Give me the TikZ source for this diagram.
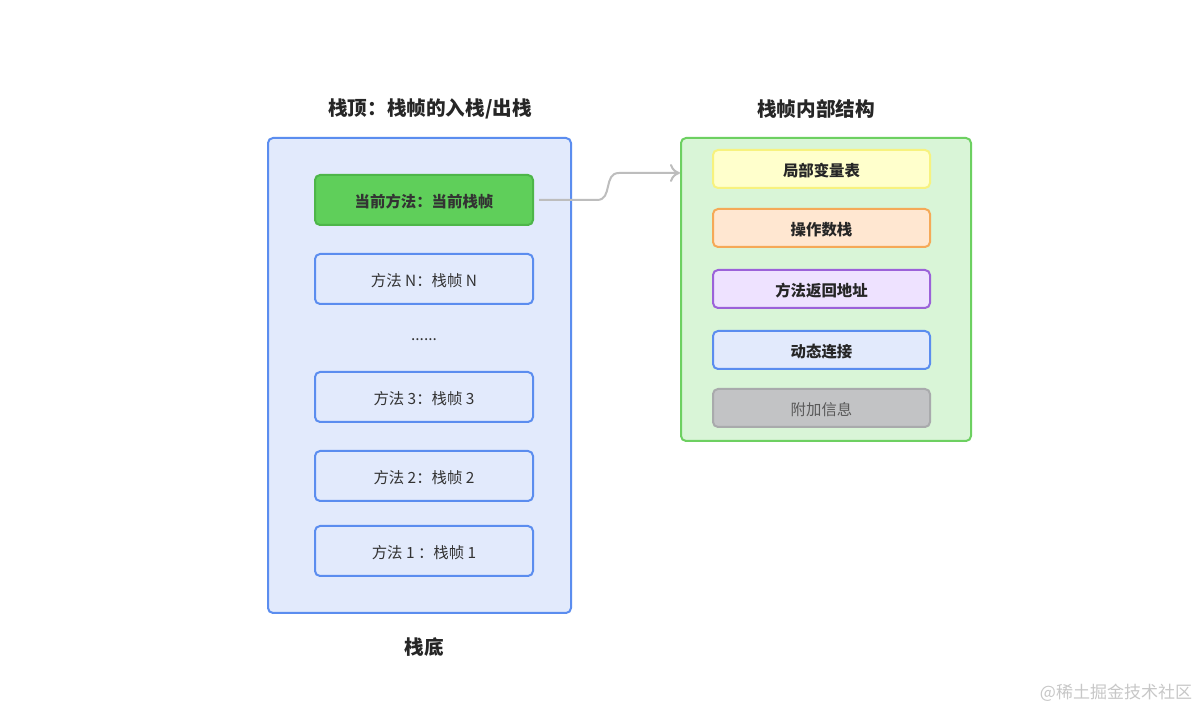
\documentclass[tikz,border=0pt]{standalone}
\usepackage{fontspec}
\setmainfont{Noto Sans CJK SC}
\usetikzlibrary{
	arrows.meta,
	calc,
	positioning
}
\definecolor{stackFill}{HTML}{E2EAFC}
\definecolor{stackLine}{HTML}{5B8DEF}
\definecolor{curFill}{HTML}{5FCF5A}
\definecolor{curLine}{HTML}{4DB649}
\definecolor{frameFill}{HTML}{D9F5D7}
\definecolor{frameLine}{HTML}{6DD061}
\definecolor{lvtFill}{HTML}{FFFFCC}
\definecolor{lvtLine}{HTML}{F7F27E}
\definecolor{opsFill}{HTML}{FFE7D1}
\definecolor{opsLine}{HTML}{F5A957}
\definecolor{retFill}{HTML}{EEE2FF}
\definecolor{retLine}{HTML}{9B62D9}
\definecolor{extFill}{HTML}{C2C3C5}
\definecolor{extLine}{HTML}{A9AAAC}
\definecolor{linkGray}{HTML}{BDBDBD}
\tikzset{every path/.append style={line width=1pt}}
\tikzset{
	title/.style={font=\bfseries\fontsize{9.8}{11}\selectfont,text=black!85},
	outerBox/.style={draw,rounded corners=2.5pt},
	methodBox/.style={draw=stackLine,fill=stackFill,rounded corners=2.5pt,
		minimum width=109pt,minimum height=25pt,inner sep=0pt,
		font=\fontsize{7.7}{9}\selectfont,text=black!80},
	partBox/.style={draw,rounded corners=2.5pt,minimum width=108.5pt,
		minimum height=19pt,inner sep=0pt,
		font=\bfseries\fontsize{7.7}{9}\selectfont,text=black!85}
}
\newcommand{\lowText}[1]{\raisebox{-1pt}[\height][\depth]{#1}}
\newcommand{\tikzPart}[4]{\node (#1) at (821.5,#2) [partBox,draw=#3Line,fill=#3Fill]{\lowText{#4}};}

\begin{document}
\begin{tikzpicture}[x=0.5pt,y=-0.5pt]
	\useasboundingbox[fill=white] (0,0) rectangle (1201,710);
	
	% call stack
	\node (stackTop) at (430,109) [title] {栈顶：栈帧的入栈/出栈};
	\node (stack) at (419.5,375.5) [outerBox,draw=stackLine,fill=stackFill,
		minimum width=151.5pt,minimum height=237.5pt] {};
	\node (cur) at (424,200) [methodBox,draw=curLine,fill=curFill,
		font=\bfseries\fontsize{7.7}{9}\selectfont] {\lowText{当前方法：当前栈帧}};
	\node (mN) at (424,279) [methodBox] {\lowText{方法 N：栈帧 N}};
	\node (dots) at (424,340) [font=\fontsize{7.7}{9}\selectfont,text=black!80] {......};
	\node (m3) at (424,397) [methodBox] {\lowText{方法 3：栈帧 3}};
	\node (m2) at (424,476) [methodBox] {\lowText{方法 2：栈帧 2}};
	\node (m1) at (424,551) [methodBox] {\lowText{方法 1 ：栈帧 1}};
	\node (stackBottom) at (424,647) [title] {栈底};
	
	% frame layout
	\node (frameTitle) at (816,109) [title] {栈帧内部结构};
	\node (frame) at (826,289.5) [outerBox,draw=frameLine,fill=frameFill,
		minimum width=145pt,minimum height=151.5pt] {};
	\tikzPart{lvt}{169}{lvt}{局部变量表}
	\tikzPart{ops}{228}{ops}{操作数栈}
	\tikzPart{ret}{289}{ret}{方法返回地址}
	\tikzPart{dyn}{350}{stack}{动态连接}
	\node (ext) at (821.5,408) [partBox,draw=extLine,fill=extFill,
		font=\fontsize{7.7}{9}\selectfont,text=black!65] {\lowText{附加信息}};
	
	\draw[linkGray,-{To[length=5pt,width=9pt]}] ([xshift=2.5pt]cur.east) -- ++(58,0)
		.. controls +(16,0) and +(-16,0) .. ++(22,-27) -- ([yshift=-2pt]frame.west |- lvt);
	
	\node (mark) at (1116,693) [font=\fontsize{8.5}{10}\selectfont,text=black!22] {@稀土掘金技术社区};
\end{tikzpicture}
\end{document}
